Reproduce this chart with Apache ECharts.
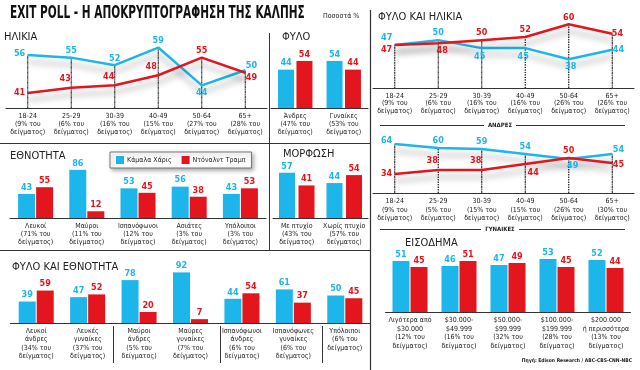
<!DOCTYPE html>
<html><head><meta charset="utf-8">
<script src="https://cdn.jsdelivr.net/npm/echarts/dist/echarts.min.js"></script>
<style>html,body{margin:0;padding:0;background:#fff}#c{width:640px;height:370px}</style>
</head><body><div id="c"></div>
<script>
// ---------- DATA ----------
const harrisName = 'Κάμαλα Χάρις';
const trumpName = 'Ντόναλντ Τραμπ';

const ageCats = ['18-24\n(9% του\nδείγματος)', '25-29\n(6% του\nδείγματος)', '30-39\n(16% του\nδείγματος)', '40-49\n(15% του\nδείγματος)', '50-64\n(27% του\nδείγματος)', '65+\n(28% του\nδείγματος)'];
const ageHarris = [56, 55, 52, 59, 44, 50];
const ageTrump = [41, 43, 44, 48, 55, 49];

const sexCats = ['Άνδρες\n(47% του\nδείγματος)', 'Γυναίκες\n(53% του\nδείγματος)'];
const sexHarris = [44, 54];
const sexTrump = [54, 44];

const menAgeCats = ['18-24\n(9% του\nδείγματος)', '25-29\n(6% του\nδείγματος)', '30-39\n(16% του\nδείγματος)', '40-49\n(16% του\nδείγματος)', '50-64\n(26% του\nδείγματος)', '65+\n(26% του\nδείγματος)'];
const menHarris = [47, 50, 45, 45, 38, 44];
const menTrump = [47, 48, 50, 52, 60, 54];

const womenAgeCats = ['18-24\n(9% του\nδείγματος)', '25-29\n(5% του\nδείγματος)', '30-39\n(15% του\nδείγματος)', '40-49\n(15% του\nδείγματος)', '50-64\n(26% του\nδείγματος)', '65+\n(30% του\nδείγματος)'];
const womenHarris = [64, 60, 59, 54, 49, 54];
const womenTrump = [34, 38, 38, 44, 50, 45];

const raceCats = ['Λευκοί\n(71% του\nδείγματος)', 'Μαύροι\n(11% του\nδείγματος)', 'Ισπανόφωνοι\n(12% του\nδείγματος)', 'Ασιάτες\n(3% του\nδείγματος)', 'Υπόλοιποι\n(3% του\nδείγματος)'];
const raceHarris = [43, 86, 53, 56, 43];
const raceTrump = [55, 12, 45, 38, 53];

const eduCats = ['Με πτυχίο\n(43% του\nδείγματος)', 'Χωρίς πτυχίο\n(57% του\nδείγματος)'];
const eduHarris = [57, 44];
const eduTrump = [41, 54];

const sexRaceCats = ['Λευκοί\nάνδρες\n(34% του\nδείγματος)', 'Λευκές\nγυναίκες\n(37% του\nδείγματος)', 'Μαύροι\nάνδρες\n(5% του\nδείγματος)', 'Μαύρες\nγυναίκες\n(7% του\nδείγματος)', 'Ισπανόφωνοι\nάνδρες\n(6% του\nδείγματος)', 'Ισπανόφωνες\nγυναίκες\n(6% του\nδείγματος)', 'Υπόλοιποι\n(6% του\nδείγματος)'];
const sexRaceHarris = [39, 47, 78, 92, 44, 61, 50];
const sexRaceTrump = [59, 52, 20, 7, 54, 37, 45];

const incomeCats = ['Λιγότερα από\n$30.000\n(12% του\nδείγματος)', '$30.000-\n$49.999\n(16% του\nδείγματος)', '$50.000-\n$99.999\n(32% του\nδείγματος)', '$100.000-\n$199.999\n(28% του\nδείγματος)', '$200.000\nή περισσότερα\n(13% του\nδείγματος)'];
const incomeHarris = [51, 46, 47, 53, 52];
const incomeTrump = [45, 51, 49, 45, 44];

// ---------- STYLE ----------
const CYAN = '#1db6ea';
const RED = '#e3161d';
const FC = '"DejaVu Sans Condensed","Liberation Sans Narrow","Roboto Condensed","DejaVu Sans",sans-serif';
const FS = '"DejaVu Sans Condensed","Liberation Sans Narrow","DejaVu Sans",sans-serif';

const grids = [
  {left: 6, top: 40, width: 261, height: 68},     // 0 age
  {left: 271, top: 40, width: 97, height: 68},    // 1 sex
  {left: 10, top: 162, width: 256, height: 56},   // 2 race
  {left: 273, top: 160, width: 95, height: 58},   // 3 edu
  {left: 10.5, top: 268, width: 360, height: 55}, // 4 sex & race
  {left: 373, top: 21, width: 261, height: 67},   // 5 men age
  {left: 373, top: 140, width: 261, height: 53},  // 6 women age
  {left: 385.5, top: 252, width: 245, height: 60} // 7 income
];
const yRanges = [[35, 62], [0, 78], [0, 100], [0, 73], [0, 100], [20, 62], [15, 68], [0, 60]];
const xCats = [ageCats, sexCats, raceCats, eduCats, sexRaceCats, menAgeCats, womenAgeCats, incomeCats];
const labelLH = [8, 8, 8, 8, 8.3, 7.5, 8.5, 8.5];

const xAxes = xCats.map((c, i) => ({
  type: 'category', gridIndex: i, data: c, boundaryGap: true,
  axisLine: {lineStyle: {color: '#333', width: 1}}, axisTick: {show: false},
  axisLabel: {interval: 0, fontSize: 7, lineHeight: labelLH[i], color: '#222', margin: 4, fontFamily: FS}
}));
const yAxes = yRanges.map((r, i) => ({
  type: 'value', gridIndex: i, min: r[0], max: r[1], show: false, splitLine: {show: false}
}));

function valLabel(color) {
  return {show: true, color: color, fontSize: 9, fontWeight: 'bold', fontFamily: FC, distance: 2};
}
function barSeries(name, gi, data, color, bw, gap) {
  return {
    name: name, type: 'bar', xAxisIndex: gi, yAxisIndex: gi, data: data,
    barWidth: bw, barGap: gap, itemStyle: {color: color},
    label: Object.assign(valLabel(color), {position: 'top'})
  };
}
function lineSeries(name, gi, vals, color, lblCfg) {
  return {
    name: name, type: 'line', xAxisIndex: gi, yAxisIndex: gi,
    symbol: 'circle', symbolSize: 1, showSymbol: true,
    data: vals.map((v, i) => ({value: v, label: Object.assign({show: true}, lblCfg[i])})),
    lineStyle: {color: color, width: 2.5, shadowColor: 'rgba(0,0,0,0.3)', shadowBlur: 6, shadowOffsetY: 7},
    itemStyle: {color: color},
    label: valLabel(color), z: 3
  };
}
// dotted guide from the higher of the two points down to the axis (a hair-thin bar with dotted border)
function guideSeries(gi, a, b) {
  return {
    type: 'bar', xAxisIndex: gi, yAxisIndex: gi, z: 1, silent: true,
    data: a.map((v, i) => Math.max(v, b[i])),
    barWidth: 0.01,
    itemStyle: {color: 'rgba(0,0,0,0)', borderColor: '#111', borderWidth: 1, borderType: [1, 1.5]},
    label: {show: false}
  };
}
const L = (p, o) => o ? {position: p, offset: o} : {position: p};

const series = [
  // age
  guideSeries(0, ageHarris, ageTrump),
  lineSeries(harrisName, 0, ageHarris, CYAN,
    [L('left', [0, -1]), L('top'), L('top'), L('top'), L('bottom'), L('right', [-2, -5])]),
  lineSeries(trumpName, 0, ageTrump, RED,
    [L('left'), L('top', [-6, -2]), L('top', [-6, -2]), L('top', [-7, -2]), L('top'), L('right', [-2, 5])]),
  // sex
  barSeries(harrisName, 1, sexHarris, CYAN, 16, '15%'),
  barSeries(trumpName, 1, sexTrump, RED, 16, '15%'),
  // race
  barSeries(harrisName, 2, raceHarris, CYAN, 17, '6%'),
  barSeries(trumpName, 2, raceTrump, RED, 17, '6%'),
  // edu
  barSeries(harrisName, 3, eduHarris, CYAN, 16, '22%'),
  barSeries(trumpName, 3, eduTrump, RED, 16, '22%'),
  // sex & race
  barSeries(harrisName, 4, sexRaceHarris, CYAN, 17, '6%'),
  barSeries(trumpName, 4, sexRaceTrump, RED, 17, '6%'),
  // men age
  guideSeries(5, menHarris, menTrump),
  lineSeries(harrisName, 5, menHarris, CYAN,
    [L('top', [-8, 0]), L('top'), L('bottom', [-2, 2]), L('bottom', [-2, 2]), L('bottom', [2, 0]), L('right', [-2, 0])]),
  lineSeries(trumpName, 5, menTrump, RED,
    [L('left', [0, 5]), L('bottom', [4, 0]), L('top'), L('top'), L('top'), L('right', [-3, 0])]),
  // women age
  guideSeries(6, womenHarris, womenTrump),
  lineSeries(harrisName, 6, womenHarris, CYAN,
    [L('left', [0, -3]), L('top'), L('top'), L('top'), L('bottom', [4, 0]), L('right', [-2, -4])]),
  lineSeries(trumpName, 6, womenTrump, RED,
    [L('left'), L('top', [-6, -2]), L('top', [-6, -2]), L('bottom', [8, 2]), L('top'), L('right', [-2, 2])]),
  // income
  barSeries(harrisName, 7, incomeHarris, CYAN, 17, '6%'),
  barSeries(trumpName, 7, incomeTrump, RED, 17, '6%')
];

function txt(x, y, text, size, opts) {
  return Object.assign({type: 'text', x: x, y: y, silent: true,
    style: Object.assign({text: text, fontSize: size, fontFamily: FS, fill: '#222'}, (opts && opts.style) || {})},
    opts && opts.el || {});
}
function line(x1, y1, x2, y2, w, c) {
  return {type: 'line', silent: true, shape: {x1: x1, y1: y1, x2: x2, y2: y2}, style: {stroke: c || '#333', lineWidth: w || 1}};
}

const graphics = [
  txt(10, 4, 'EXIT POLL - Η ΑΠΟΚΡΥΠΤΟΓΡΑΦΗΣΗ ΤΗΣ ΚΑΛΠΗΣ', 18, {style: {fontWeight: 'bold', fontFamily: FC, fill: '#111'}, el: {scaleX: 0.65}}),
  txt(323, 13, 'Ποσοστά %', 7),
  txt(4, 32, 'ΗΛΙΚΙΑ', 11),
  txt(282, 32, 'ΦΥΛΟ', 11),
  txt(378, 12, 'ΦΥΛΟ ΚΑΙ ΗΛΙΚΙΑ', 11),
  txt(10, 151, 'ΕΘΝΟΤΗΤΑ', 11),
  txt(283, 149, 'ΜΟΡΦΩΣΗ', 11),
  txt(12, 262, 'ΦΥΛΟ ΚΑΙ ΕΘΝΟΤΗΤΑ', 11),
  txt(405, 238, 'ΕΙΣΟΔΗΜΑ', 11),
  txt(500, 125, 'ΑΝΔΡΕΣ', 6, {style: {fontWeight: 'bold', align: 'center', verticalAlign: 'middle'}}),
  txt(500, 229, 'ΓΥΝΑΙΚΕΣ', 6, {style: {fontWeight: 'bold', align: 'center', verticalAlign: 'middle'}}),
  txt(632, 361, 'Πηγή: Edison Research / ABC-CBS-CNN-NBC', 5, {style: {fontWeight: 'bold', align: 'right', verticalAlign: 'middle'}}),
  line(370.5, 10, 370.5, 370, 1.2),
  line(269.5, 33, 269.5, 251, 1),
  line(0, 143.5, 370, 143.5, 1.2),
  line(0, 250.5, 370, 250.5, 1.2),
  line(113.5, 326, 113.5, 363, 1),
  line(220.5, 326, 220.5, 363, 1),
  line(322.5, 326, 322.5, 363, 1),
  line(380, 125.5, 484, 125.5, 1),
  line(516, 125.5, 625, 125.5, 1),
  line(380, 229.5, 481, 229.5, 1),
  line(519, 229.5, 625, 229.5, 1)
];

const chart = echarts.init(document.getElementById('c'), null, {renderer: 'canvas'});
chart.setOption({
  animation: false,
  backgroundColor: '#fff',
  grid: grids,
  xAxis: xAxes,
  yAxis: yAxes,
  legend: {
    data: [harrisName, trumpName], left: 110, top: 152, orient: 'horizontal',
    itemWidth: 8, itemHeight: 8, itemGap: 10, icon: 'rect', padding: [4, 6],
    backgroundColor: '#fff', borderColor: '#777', borderWidth: 1,
    shadowColor: 'rgba(0,0,0,0.35)', shadowBlur: 4, shadowOffsetX: 2, shadowOffsetY: 2,
    textStyle: {fontSize: 7, fontFamily: FS, color: '#222', padding: [0, 0, 0, -2]}
  },
  series: series,
  graphic: graphics
});
</script>
</body></html>
